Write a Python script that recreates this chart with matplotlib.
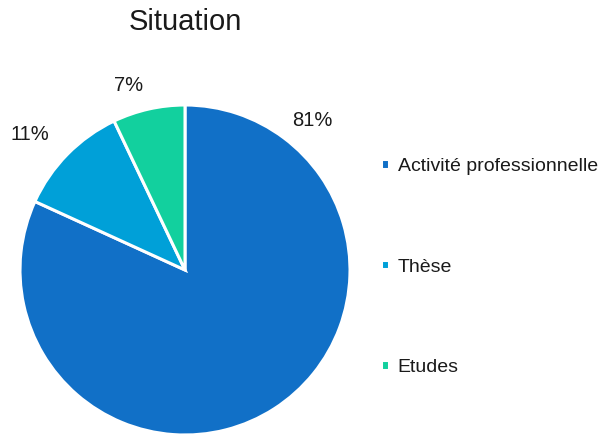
import numpy as np
import matplotlib
matplotlib.use('Agg')
import matplotlib.pyplot as plt

plt.rcParams['font.family'] = ['Liberation Sans', 'DejaVu Sans']

# Data
categories = ['Activité professionnelle', 'Thèse', 'Etudes']
values = [81, 11, 7]
colors = ['#1170C7', '#00A0D8', '#12D09E']

# label placement (angle in degrees, distance in radii)
label_pos = [(49.7, 1.19), (138.9, 1.245), (107.1, 1.17)]

fig = plt.figure(figsize=(6.05, 4.37), dpi=100)
ax = fig.add_axes([20 / 605, 2 / 437, 330 / 605, 330 / 437])

wedges, _ = ax.pie(values, colors=colors, startangle=90, counterclock=False,
                   wedgeprops=dict(edgecolor='white', linewidth=2.2))
ax.set_aspect('equal')
ax.set_xlim(-1, 1)
ax.set_ylim(-1, 1)

for v, (ang, dist) in zip(values, label_pos):
    a = np.deg2rad(ang)
    ax.text(dist * np.cos(a), dist * np.sin(a), f'{v}%',
            ha='center', va='center', fontsize=14.5, color='#1a1a1a', clip_on=False)

fig.text(185 / 605, 1 - 22 / 437, 'Situation', ha='center', va='center',
         fontsize=21, color='#1a1a1a')

fig.legend(wedges, categories, loc='center left',
           bbox_to_anchor=(381 / 605, (437 - 267) / 437),
           frameon=False, fontsize=14, labelspacing=4.3,
           handlelength=0.4, handleheight=0.36, handletextpad=0.45,
           borderpad=0, borderaxespad=0, labelcolor='#1a1a1a')

fig.savefig('out.png', dpi=100)
